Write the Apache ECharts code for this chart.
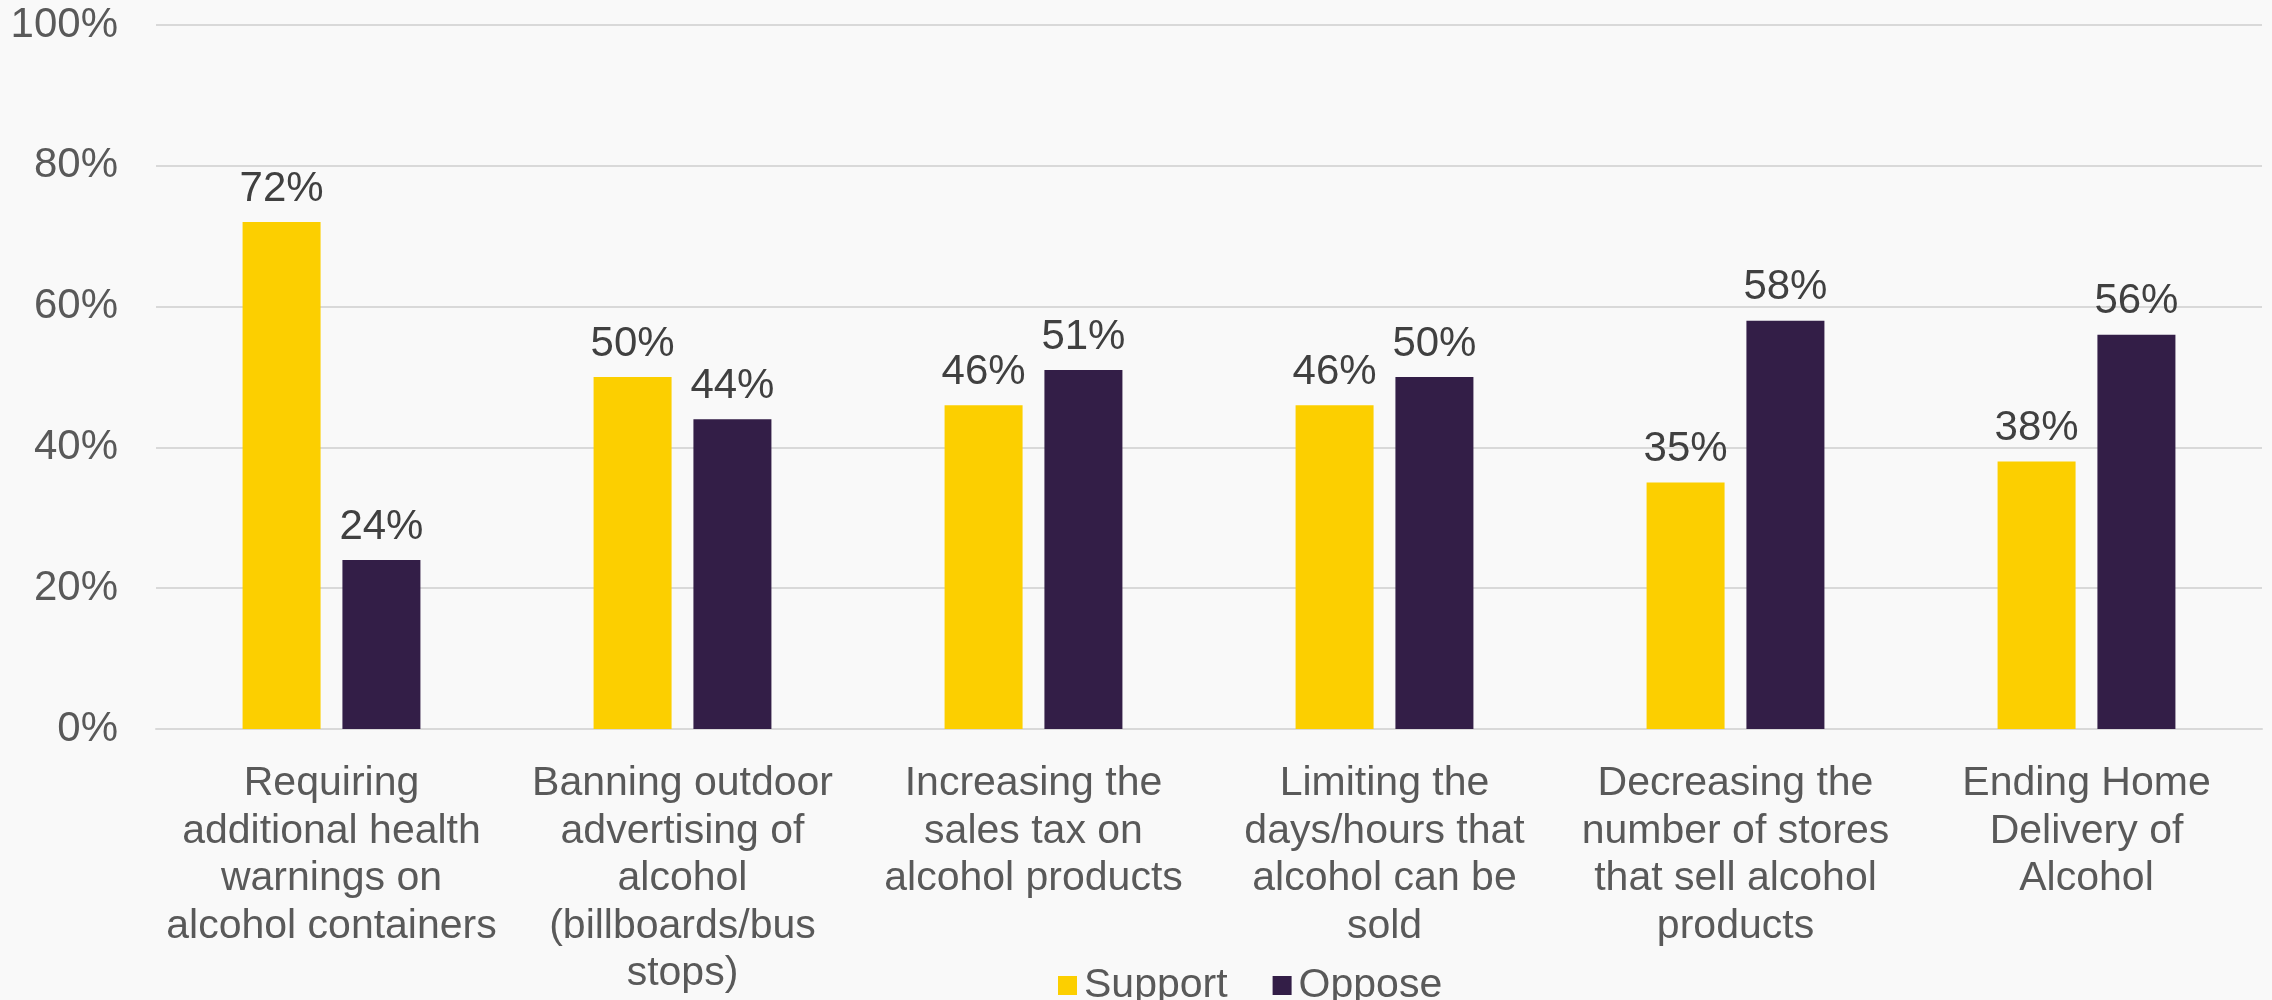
<!DOCTYPE html>
<html lang="en">
<head>
    <meta charset="UTF-8">
    <title>Alcohol policy support</title>
    <style>
        body {
            margin: 0;
            padding: 0;
            background-color: #f9f9f9;
        }
        #chart {
            width: 2272px;
            height: 1000px;
        }
    </style>
    <script src="https://cdn.jsdelivr.net/npm/echarts@6/dist/echarts.min.js"></script>
</head>
<body>
<div id="chart"></div>
<script>
    var categories = [
        'Requiring\nadditional health\nwarnings on\nalcohol containers',
        'Banning outdoor\nadvertising of\nalcohol\n(billboards/bus\nstops)',
        'Increasing the\nsales tax on\nalcohol products',
        'Limiting the\ndays/hours that\nalcohol can be\nsold',
        'Decreasing the\nnumber of stores\nthat sell alcohol\nproducts',
        'Ending Home\nDelivery of\nAlcohol'
    ];
    var support = [72, 50, 46, 46, 35, 38];
    var oppose = [24, 44, 51, 50, 58, 56];

    var chart = echarts.init(document.getElementById('chart'));

    var labelStyle = {
        show: true,
        position: 'top',
        distance: 12,
        formatter: '{c}%',
        color: '#404040',
        fontSize: 42,
        fontFamily: 'Liberation Sans, Arial, sans-serif'
    };

    chart.setOption({
        backgroundColor: '#f9f9f9',
        animation: false,
        textStyle: {fontFamily: 'Liberation Sans, Arial, sans-serif'},
        grid: {left: 156, right: 10, top: 25, bottom: 271, containLabel: false},
        legend: {
            data: ['Support', 'Oppose'],
            left: 1053,
            top: 960,
            itemWidth: 19,
            itemHeight: 19,
            itemGap: 45,
            icon: 'rect',
            textStyle: {color: '#595959', fontSize: 41, padding: [0, 0, 0, 2]}
        },
        xAxis: {
            type: 'category',
            data: categories,
            axisTick: {show: false},
            axisLine: {lineStyle: {color: '#d9d9d9', width: 2}},
            axisLabel: {
                color: '#595959',
                fontSize: 41,
                lineHeight: 47.5,
                margin: 31,
                interval: 0
            }
        },
        yAxis: {
            type: 'value',
            min: 0,
            max: 100,
            interval: 20,
            axisLine: {show: false},
            axisTick: {show: false},
            splitLine: {lineStyle: {color: '#d9d9d9', width: 2}},
            axisLabel: {
                color: '#595959',
                fontSize: 42,
                margin: 38,
                padding: [5, 0, 0, 0],
                formatter: '{value}%'
            }
        },
        series: [
            {
                name: 'Support',
                type: 'bar',
                data: support,
                barWidth: 78,
                barGap: '28%',
                itemStyle: {color: '#fccf00'},
                label: labelStyle
            },
            {
                name: 'Oppose',
                type: 'bar',
                data: oppose,
                barWidth: 78,
                itemStyle: {color: '#331e47'},
                label: labelStyle
            }
        ]
    });
    window.onresize = chart.resize;
</script>
</body>
</html>
